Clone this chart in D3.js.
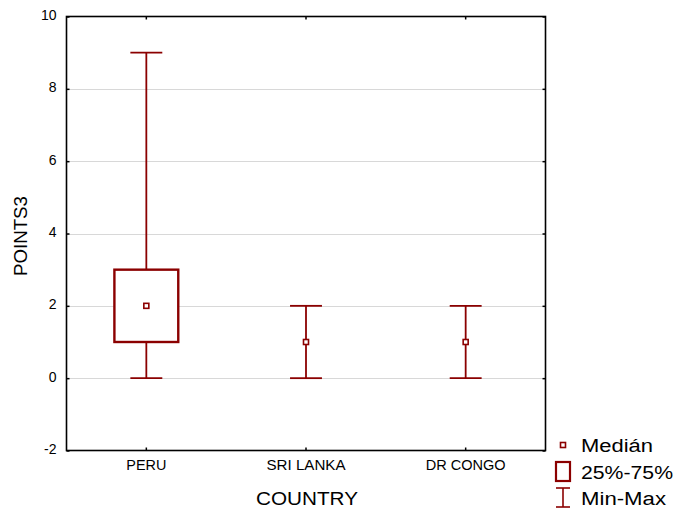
<!DOCTYPE html>
<html>
<head>
<meta charset="utf-8">
<script src="https://cdn.jsdelivr.net/npm/d3@7"></script>
<style>
  html, body { margin: 0; padding: 0; background: #fff; }
  svg { display: block; font-family: "Liberation Sans", Arial, sans-serif; }
</style>
</head>
<body>
<svg id="chart" width="677" height="509"></svg>
<script>
// Box summary per country
const countries = ["PERU", "SRI LANKA", "DR CONGO"];
const minValues = [0, 0, 0];
const q1Values = [1, 1, 1];
const medianValues = [2, 1, 1];
const q3Values = [3, 1, 1];
const maxValues = [9, 2, 2];

const yTicks = [-2, 0, 2, 4, 6, 8, 10];
const legendLabels = ["Medián", "25%-75%", "Min-Max"];

(function draw() {
  const color = "#8b0000";
  const svg = d3.select("#chart");
  const margin = { left: 66.5, top: 16.5, right: 545.5, bottom: 450.5 };

  const x = d3.scaleBand().domain(countries).range([margin.left, margin.right]);
  const y = d3.scaleLinear().domain([-2, 10]).range([margin.bottom, margin.top]);

  const data = countries.map((c, i) => ({
    c, min: minValues[i], q1: q1Values[i], med: medianValues[i], q3: q3Values[i], max: maxValues[i]
  }));

  // grid
  svg.append("g").selectAll("line").data(yTicks.filter(t => t > -2 && t < 10)).join("line")
    .attr("x1", margin.left).attr("x2", margin.right)
    .attr("y1", d => Math.round(y(d)) + 0.5).attr("y2", d => Math.round(y(d)) + 0.5)
    .attr("stroke", "#d8d8d8").attr("stroke-width", 1);

  // axes with inward ticks
  const axLeft = svg.append("g").attr("transform", `translate(${margin.left},0)`)
    .call(d3.axisLeft(y).tickValues(yTicks).tickSize(-3).tickPadding(10).tickFormat(d => d));
  const axRight = svg.append("g").attr("transform", `translate(${margin.right},0)`)
    .call(d3.axisRight(y).tickValues(yTicks).tickSize(-3).tickFormat(""));
  const axTop = svg.append("g").attr("transform", `translate(0,${margin.top})`)
    .call(d3.axisTop(x).tickSize(-3).tickFormat(""));
  const axBottom = svg.append("g").attr("transform", `translate(0,${margin.bottom})`)
    .call(d3.axisBottom(x).tickSize(-3).tickPadding(9));

  [axLeft, axRight, axTop, axBottom].forEach(g => {
    g.select(".domain").remove();
    g.selectAll(".tick line").attr("stroke", "#000").attr("stroke-width", 1.5);
  });
  axLeft.selectAll(".tick text").attr("font-size", 14).attr("fill", "#000").attr("dy", "0.22em")
    .attr("font-family", "Liberation Sans, Arial, sans-serif");
  axBottom.selectAll(".tick text").attr("font-size", 14).attr("fill", "#000")
    .attr("font-family", "Liberation Sans, Arial, sans-serif")
    .attr("y", 19).attr("dy", 0)
    .attr("textLength", d => ({"PERU": 40, "SRI LANKA": 79, "DR CONGO": 80})[d])
    .attr("lengthAdjust", "spacingAndGlyphs");

  // frame
  svg.append("rect")
    .attr("x", margin.left).attr("y", margin.top)
    .attr("width", margin.right - margin.left).attr("height", margin.bottom - margin.top)
    .attr("fill", "none").attr("stroke", "#000").attr("stroke-width", 1.6);

  // boxes and whiskers
  const bw = x.bandwidth();
  const g = svg.append("g").attr("stroke", color).attr("fill", "none");
  data.forEach(d => {
    const cx = x(d.c) + bw / 2;
    const capW = bw * 0.2;
    const boxW = bw * 0.4;
    const gg = g.append("g");
    if (d.q3 > d.q1) {
      gg.append("line").attr("x1", cx).attr("x2", cx).attr("y1", y(d.max)).attr("y2", y(d.q3)).attr("stroke-width", 1.8);
      gg.append("line").attr("x1", cx).attr("x2", cx).attr("y1", y(d.q1)).attr("y2", y(d.min)).attr("stroke-width", 1.8);
      gg.append("rect").attr("x", cx - boxW / 2).attr("y", y(d.q3))
        .attr("width", boxW).attr("height", y(d.q1) - y(d.q3))
        .attr("fill", "#fff").attr("stroke-width", 2.4);
    } else {
      gg.append("line").attr("x1", cx).attr("x2", cx).attr("y1", y(d.max)).attr("y2", y(d.min)).attr("stroke-width", 1.8);
    }
    gg.append("line").attr("x1", cx - capW / 2).attr("x2", cx + capW / 2).attr("y1", y(d.max)).attr("y2", y(d.max)).attr("stroke-width", 1.8);
    gg.append("line").attr("x1", cx - capW / 2).attr("x2", cx + capW / 2).attr("y1", y(d.min)).attr("y2", y(d.min)).attr("stroke-width", 1.8);
    gg.append("rect").attr("x", cx - 2.5).attr("y", y(d.med) - 2.5).attr("width", 5).attr("height", 5)
      .attr("fill", "#fff").attr("stroke-width", 1.6);
  });

  // axis titles
  svg.append("text").attr("x", 307).attr("y", 505).attr("text-anchor", "middle")
    .attr("font-size", 19).attr("fill", "#000")
    .attr("textLength", 102).attr("lengthAdjust", "spacingAndGlyphs").text("COUNTRY");
  svg.append("text").attr("transform", "translate(27,236) rotate(-90)").attr("text-anchor", "middle")
    .attr("font-size", 18).attr("fill", "#000")
    .attr("textLength", 80).attr("lengthAdjust", "spacingAndGlyphs").text("POINTS3");

  // legend
  const lg = svg.append("g");
  const lx = 563;
  lg.append("rect").attr("x", lx - 2.5).attr("y", 442.5).attr("width", 5).attr("height", 5)
    .attr("fill", "#fff").attr("stroke", color).attr("stroke-width", 1.6);
  lg.append("rect").attr("x", lx - 7).attr("y", 462).attr("width", 14).attr("height", 19)
    .attr("fill", "#fff").attr("stroke", color).attr("stroke-width", 2.2);
  lg.append("line").attr("x1", lx).attr("x2", lx).attr("y1", 488).attr("y2", 507).attr("stroke", color).attr("stroke-width", 1.6);
  lg.append("line").attr("x1", lx - 7).attr("x2", lx + 7).attr("y1", 488).attr("y2", 488).attr("stroke", color).attr("stroke-width", 1.6);
  lg.append("line").attr("x1", lx - 7).attr("x2", lx + 7).attr("y1", 507).attr("y2", 507).attr("stroke", color).attr("stroke-width", 1.6);

  const legendY = [452, 479, 505];
  const legendW = [72, 92, 85];
  lg.selectAll("text.lab").data(legendLabels).join("text").attr("class", "lab")
    .attr("x", 581).attr("y", (d, i) => legendY[i])
    .attr("font-size", 18).attr("fill", "#000")
    .attr("textLength", (d, i) => legendW[i]).attr("lengthAdjust", "spacingAndGlyphs")
    .text(d => d);
})();
</script>
</body>
</html>
